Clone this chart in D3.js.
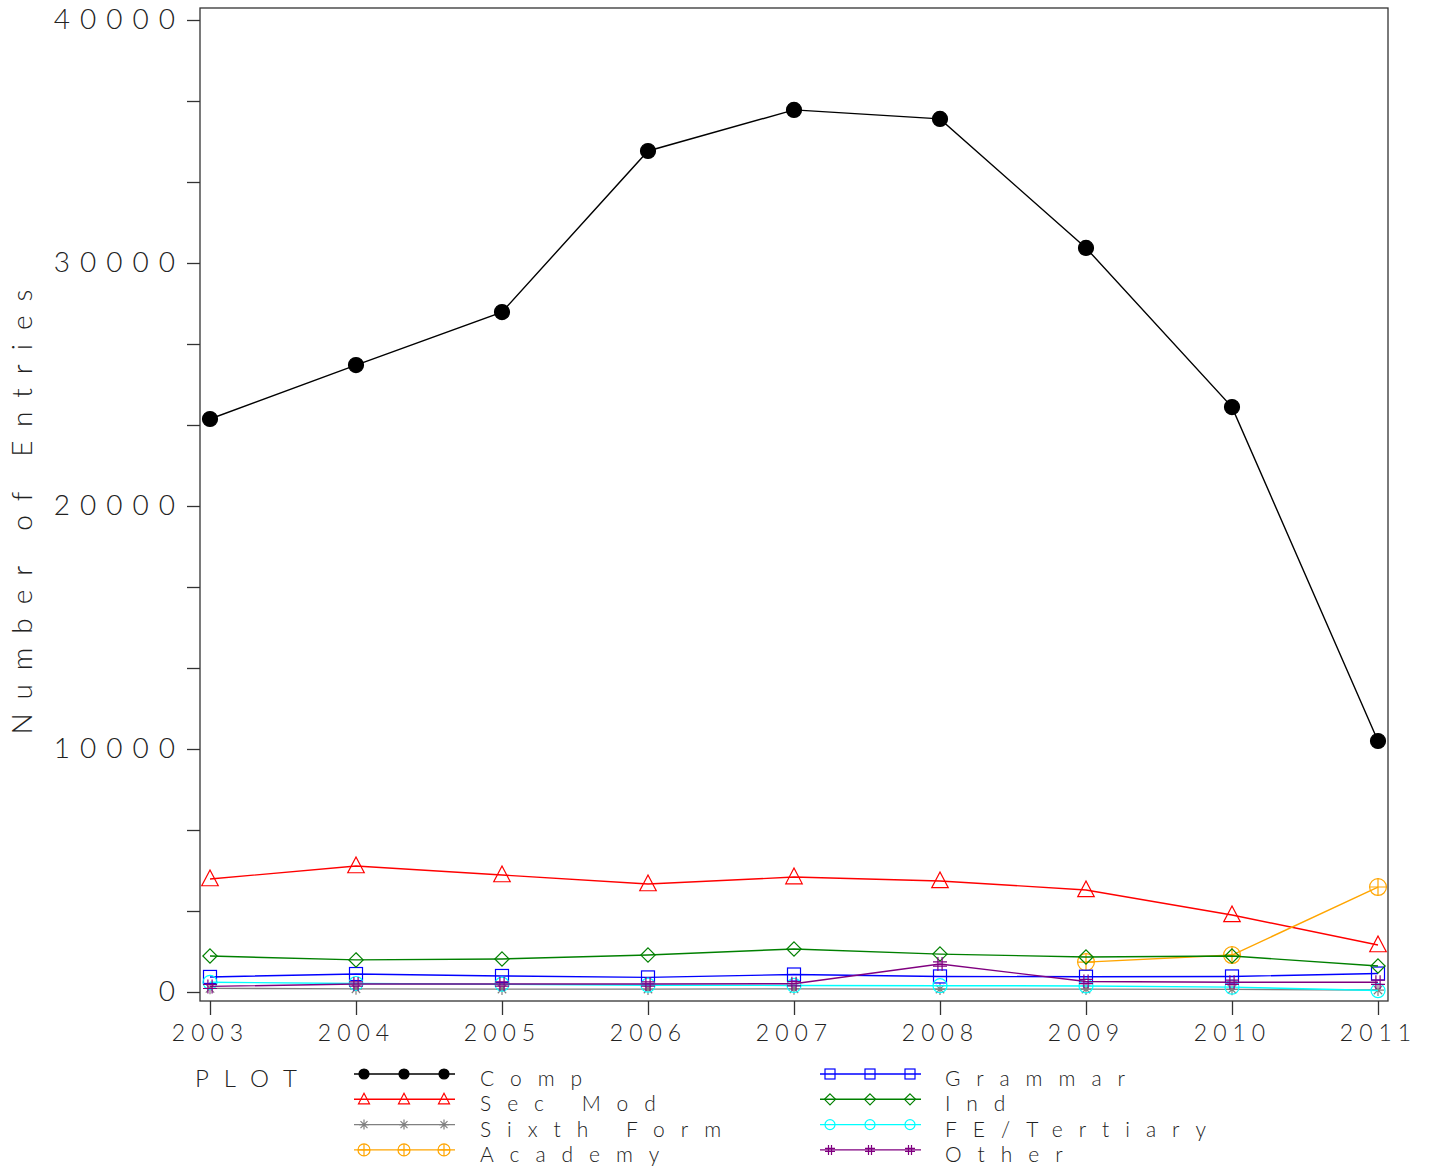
<!DOCTYPE html>
<html>
<head>
<meta charset="utf-8">
<script src="https://cdn.jsdelivr.net/npm/d3@7"></script>
<style>
  body { margin: 0; background: #fff; }
  text { font-family: "Lato", "DejaVu Sans", sans-serif; font-weight: 300; fill: #222; }
</style>
</head>
<body>
<svg id="chart" width="1431" height="1171"></svg>
<script>
const years = [2003, 2004, 2005, 2006, 2007, 2008, 2009, 2010, 2011];
const comp = [23580, 25800, 27980, 34610, 36300, 35930, 30620, 24070, 10330];
const secMod = [4650, 5185, 4815, 4445, 4730, 4570, 4200, 3170, 1935];
const sixthForm = [150, 130, 120, 120, 130, 120, 120, 110, 80];
const academy = [null, null, null, null, null, null, 1230, 1520, 4320];
const grammar = [620, 740, 660, 600, 720, 640, 630, 640, 760];
const ind = [1480, 1320, 1360, 1520, 1770, 1560, 1440, 1480, 1070];
const feTertiary = [400, 350, 320, 280, 270, 260, 250, 200, 60];
const other = [230, 330, 330, 330, 340, 1150, 430, 400, 400];
const yTicks = [0, 10000, 20000, 30000, 40000];

const series = [
    { name: 'Comp', values: comp, color: 'black', marker: 'dot' },
    { name: 'Sec Mod', values: secMod, color: 'red', marker: 'triangle' },
    { name: 'Sixth Form', values: sixthForm, color: 'grey', marker: 'star' },
    { name: 'Academy', values: academy, color: 'orange', marker: 'circleplus' },
    { name: 'Grammar', values: grammar, color: 'blue', marker: 'square' },
    { name: 'Ind', values: ind, color: 'green', marker: 'diamond' },
    { name: 'FE/Tertiary', values: feTertiary, color: 'cyan', marker: 'circle' },
    { name: 'Other', values: other, color: 'purple', marker: 'hash' }
];

const svg = d3.select('#chart');
const x = d3.scaleLinear().domain([2003, 2011]).range([210, 1378]);
const y = d3.scaleLinear().domain([0, 40000]).range([992, 20]);

// frame
svg.append('rect')
    .attr('x', 200).attr('y', 8)
    .attr('width', 1188).attr('height', 993)
    .attr('fill', 'none').attr('stroke', '#333').attr('stroke-width', 1.3);

// y axis: major ticks with labels, minor ticks between
const yAxis = svg.append('g')
    .attr('transform', 'translate(200,0)')
    .call(d3.axisLeft(y).tickValues(yTicks).tickSize(13).tickPadding(2).tickFormat(d3.format('d')));
yAxis.select('.domain').remove();
yAxis.selectAll('line').attr('stroke', '#333').attr('stroke-width', 1.3);
yAxis.selectAll('text')
    .attr('font-size', 28).attr('letter-spacing', 10)
    .attr('fill', '#222').attr('font-family', 'Lato').attr('font-weight', 300);

const minor = d3.range(0, 40001, 10000 / 3).filter((v, i) => i % 3 !== 0);
const yMinor = svg.append('g')
    .attr('transform', 'translate(200,0)')
    .call(d3.axisLeft(y).tickValues(minor).tickSize(13).tickFormat(''));
yMinor.select('.domain').remove();
yMinor.selectAll('line').attr('stroke', '#333').attr('stroke-width', 1.3);

// x axis
const xAxis = svg.append('g')
    .attr('transform', 'translate(0,1001)')
    .call(d3.axisBottom(x).tickValues(years).tickSize(14).tickPadding(10).tickFormat(d3.format('d')));
xAxis.select('.domain').remove();
xAxis.selectAll('line').attr('stroke', '#333').attr('stroke-width', 1.3);
xAxis.selectAll('text')
    .attr('font-size', 23).attr('letter-spacing', 6)
    .attr('fill', '#222').attr('font-family', 'Lato').attr('font-weight', 300);

// y title
svg.append('text')
    .attr('transform', 'translate(32,505) rotate(-90)')
    .attr('text-anchor', 'middle')
    .attr('font-size', 28).attr('letter-spacing', 14)
    .text('Number of Entries');

function drawMarker(g, type, color, cx, cy, s)
{
    const m = g.append('g').attr('transform', `translate(${ cx },${ cy })`)
        .attr('stroke', color).attr('stroke-width', 1.2).attr('fill', 'none');
    if (type === 'dot') {
        m.append('circle').attr('r', s * 0.5).attr('fill', color);
    } else if (type === 'triangle') {
        m.append('path').attr('d', `M0,${ -s * 0.6 }L${ s * 0.55 },${ s * 0.45 }L${ -s * 0.55 },${ s * 0.45 }Z`);
    } else if (type === 'square') {
        m.append('rect').attr('x', -s * 0.5).attr('y', -s * 0.5).attr('width', s).attr('height', s);
    } else if (type === 'diamond') {
        m.append('path').attr('d', `M0,${ -s * 0.55 }L${ s * 0.55 },0L0,${ s * 0.55 }L${ -s * 0.55 },0Z`);
    } else if (type === 'circle') {
        m.append('circle').attr('r', s * 0.5);
    } else if (type === 'circleplus') {
        m.append('circle').attr('r', s * 0.6);
        m.append('path').attr('d', `M${ -s * 0.6 },0H${ s * 0.6 }M0,${ -s * 0.6 }V${ s * 0.6 }`);
    } else if (type === 'star') {
        // asterisk: horizontal, vertical and two diagonals
        const r = s * 0.5;
        const k = r * 0.7;
        m.append('path').attr('d',
            `M${ -r },0H${ r }M0,${ -r }V${ r }M${ -k },${ -k }L${ k },${ k }M${ -k },${ k }L${ k },${ -k }`);
    } else if (type === 'hash') {
        const r = s * 0.5;
        m.append('path').attr('d',
            `M${ -r * 0.3 },${ -r }V${ r }M${ r * 0.3 },${ -r }V${ r }M${ -r },${ -r * 0.3 }H${ r }M${ -r },${ r * 0.3 }H${ r }`);
    }
}

const markerSize = { dot: 15, triangle: 15, square: 13, diamond: 13, circle: 14, circleplus: 14, star: 12, hash: 14 };

series.forEach((s) => {
    const pts = years.map((yr, i) => [yr, s.values[i]]);
    const line = d3.line()
        .defined((d) => d[1] !== null)
        .x((d) => x(d[0]))
        .y((d) => y(d[1]));
    const g = svg.append('g');
    g.append('path')
        .datum(pts)
        .attr('fill', 'none')
        .attr('stroke', s.color)
        .attr('stroke-width', 1.4)
        .attr('d', line);
    pts.filter((d) => d[1] !== null).forEach((d) => {
        drawMarker(g, s.marker, s.color, x(d[0]), y(d[1]), markerSize[s.marker]);
    });
});

// legend
svg.append('text')
    .attr('x', 195).attr('y', 1087)
    .attr('font-size', 24).attr('letter-spacing', 15)
    .text('PLOT');

const legendCols = [
    { lineX: 354, textX: 480 },
    { lineX: 820, textX: 945 }
];
const rowStep = 25.3;
series.forEach((s, i) => {
    const col = legendCols[Math.floor(i / 4)];
    const baseY = 1086 + (i % 4) * rowStep;
    const rowY = baseY - 12;
    const g = svg.append('g');
    g.append('line')
        .attr('x1', col.lineX).attr('x2', col.lineX + 101)
        .attr('y1', rowY).attr('y2', rowY)
        .attr('stroke', s.color).attr('stroke-width', 1.4);
    [10, 50, 90].forEach((dx) => drawMarker(g, s.marker, s.color, col.lineX + dx, rowY, 10));
    // rows sit tight, so the label is kept small enough not to collide
    g.append('text')
        .attr('x', col.textX).attr('y', baseY)
        .attr('font-size', 21).attr('letter-spacing', 16)
        .text(s.name);
});
</script>
</body>
</html>
